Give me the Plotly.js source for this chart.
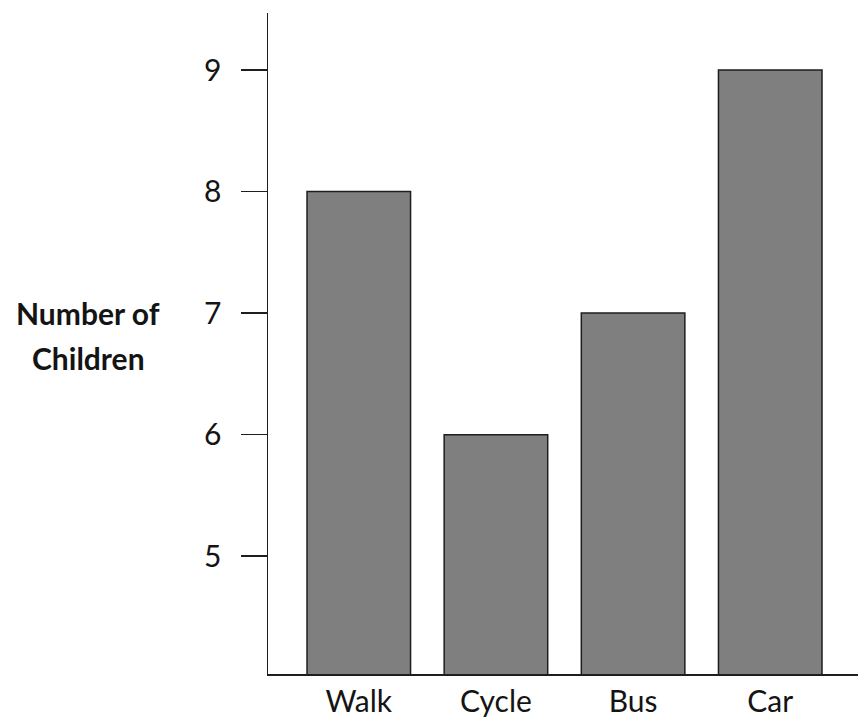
<!DOCTYPE html>
<html>
<head>
<meta charset="utf-8">
<script src="https://cdn.plot.ly/plotly-3.0.1.min.js"></script>
<style>
html,body{margin:0;padding:0;background:#fff;}
#chart{width:858px;height:717px;}
</style>
</head>
<body>
<div id="chart"></div>
<script>
// Data
const categories = ["Walk", "Cycle", "Bus", "Car"];
const children = [8, 6, 7, 9];
const yTicks = [5, 6, 7, 8, 9];
const yTitleLines = ["Number of", "Children"];

const W = 858, H = 717;
const mL = 268, mR = 0, mT = 13, mB = 43;
const pw = W - mL - mR;
const ph = H - mT - mB;
function px2paperX(px){ return (px - mL) / pw; }
function px2paperY(py){ return (H - mB - py) / ph; }

const font = "Lato, 'Open Sans', Arial, sans-serif";
const ink = "#141414";

const trace = {
  type: "bar",
  x: categories,
  y: children,
  marker: {color: "#7f7f7f", line: {color: "#1e1e1e", width: 1.5}},
  hoverinfo: "x+y"
};

const layout = {
  width: W, height: H,
  margin: {l: mL, r: mR, t: mT, b: mB, pad: 0},
  paper_bgcolor: "#ffffff",
  plot_bgcolor: "#ffffff",
  showlegend: false,
  bargap: 0.245,
  font: {family: font, color: ink, size: 29},
  xaxis: {
    type: "category",
    range: [-0.662, 3.640],
    showgrid: false,
    zeroline: false,
    showline: true,
    linecolor: "#1e1e1e",
    linewidth: 1.5,
    ticks: "",
    tickfont: {family: font, size: 30, color: ink},
    fixedrange: true
  },
  yaxis: {
    range: [4.03, 9.47],
    tickvals: yTicks,
    ticktext: yTicks.map(String),
    showgrid: false,
    zeroline: false,
    showline: true,
    linecolor: "#1e1e1e",
    linewidth: 1.5,
    ticks: "outside",
    ticklen: 26,
    tickwidth: 1.5,
    tickcolor: "#1e1e1e",
    ticklabelstandoff: 13,
    tickfont: {family: font, size: 30, color: ink},
    fixedrange: true
  },
  annotations: [
    {text: "<b>" + yTitleLines[0] + "</b>", xref: "paper", yref: "paper",
     x: px2paperX(88), y: px2paperY(313), xanchor: "center", yanchor: "middle",
     showarrow: false, font: {family: font, size: 30, color: ink}},
    {text: "<b>" + yTitleLines[1] + "</b>", xref: "paper", yref: "paper",
     x: px2paperX(88), y: px2paperY(358), xanchor: "center", yanchor: "middle",
     showarrow: false, font: {family: font, size: 30, color: ink}}
  ]
};

Plotly.newPlot("chart", [trace], layout, {displayModeBar: false, staticPlot: true});
</script>
</body>
</html>
